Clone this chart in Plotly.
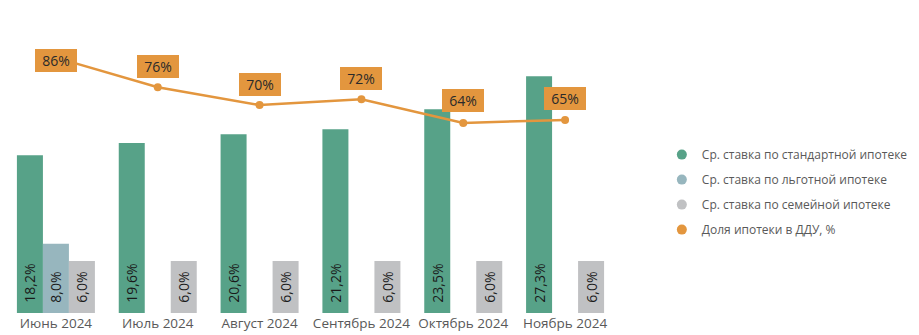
import plotly.graph_objects as go

months = ["Июнь 2024", "Июль 2024", "Август 2024", "Сентябрь 2024", "Октябрь 2024", "Ноябрь 2024"]
standard_rate = [18.2, 19.6, 20.6, 21.2, 23.5, 27.3]
preferential_rate = [8.0, None, None, None, None, None]
family_rate = [6.0, 6.0, 6.0, 6.0, 6.0, 6.0]
ddu_share = [86, 76, 70, 72, 64, 65]

names = [
    "Ср. ставка по стандартной ипотеке",
    "Ср. ставка по льготной ипотеке",
    "Ср. ставка по семейной ипотеке",
    "Доля ипотеки в ДДУ, %",
]

GREEN = "#57A288"
BLUE = "#97B6BE"
GRAY = "#C0C1C3"
ORANGE = "#E3963E"
TEXT = "#595959"
FONT = "Open Sans"

def fmt(v):
    return "" if v is None else "\u00a0\u00a0" + f"{v:.1f}%".replace(".", ",")

fig = go.Figure()
for vals, col in [(standard_rate, GREEN), (preferential_rate, BLUE), (family_rate, GRAY)]:
    fig.add_trace(go.Bar(
        x=months, y=vals, marker_color=col, marker_line_width=0,
        text=[fmt(v) for v in vals], textposition="inside", textangle=-90,
        insidetextanchor="start", constraintext="none",
        textfont=dict(family=FONT, size=14, color="#1a1a1a"),
        showlegend=False, hoverinfo="skip",
    ))

fig.add_trace(go.Scatter(
    x=months, y=ddu_share, yaxis="y2", mode="lines+markers",
    line=dict(color=ORANGE, width=2.5), marker=dict(color=ORANGE, size=8),
    showlegend=False, hoverinfo="skip",
))

# legend entries with round markers
for i, (nm, col) in enumerate(zip(names, [GREEN, BLUE, GRAY, ORANGE])):
    fig.add_trace(go.Scatter(
        x=[None], y=[None], mode="markers", name=nm,
        marker=dict(color=col, size=10, symbol="circle"),
        legendgroup=f"g{i}",
    ))

label_shift = [-3, 21, 21, 21, 22, 21]
for m, v, s in zip(months, ddu_share, label_shift):
    fig.add_annotation(
        x=m, y=v, xref="x", yref="y2", text=f"{v}%", showarrow=False,
        yshift=s, bgcolor=ORANGE, bordercolor=ORANGE, borderpad=1, width=38,
        font=dict(family=FONT, size=14, color="#2a2a2a"),
    )

fig.update_layout(
    width=919, height=335,
    margin=dict(l=5, r=303, t=16, b=22),
    paper_bgcolor="white", plot_bgcolor="white",
    barmode="group", bargap=0.234, bargroupgap=0,
    uniformtext=dict(minsize=14, mode="show"),
    xaxis=dict(showgrid=False, showline=False, zeroline=False, ticks="",
               tickfont=dict(family=FONT, size=13.5, color=TEXT), automargin=False),
    yaxis=dict(range=[0, 34.25], visible=False, showgrid=False, zeroline=False),
    yaxis2=dict(range=[0, 100], overlaying="y", visible=False, showgrid=False, zeroline=False),
    legend=dict(x=1.075, xanchor="left", y=0.407, yanchor="middle",
                font=dict(family=FONT, size=12, color=TEXT), tracegroupgap=6,
                itemwidth=30),
    showlegend=True,
)

fig.write_html("out.html")
